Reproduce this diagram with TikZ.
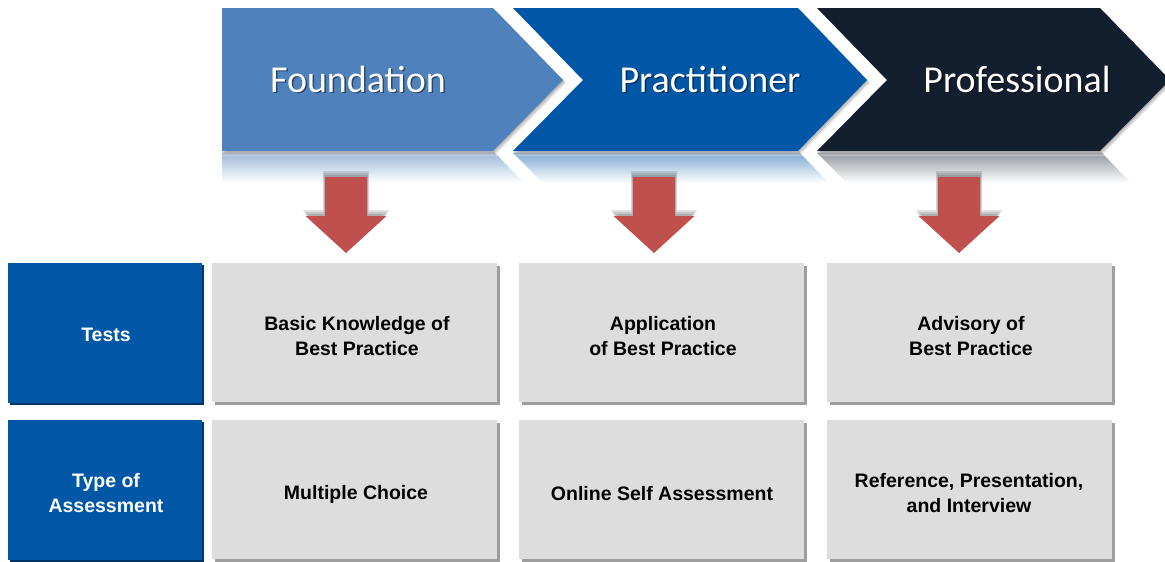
\documentclass[tikz,border=0pt]{standalone}
\usepackage{fontspec}
\setmainfont{Carlito}
\newfontfamily\boxfont{Liberation Sans}
\usetikzlibrary{shadows}
\definecolor{foundc}{HTML}{4F81BD}
\definecolor{practc}{HTML}{0057A7}
\definecolor{profc}{HTML}{131F2F}
\definecolor{boxblue}{HTML}{0057A6}
\definecolor{boxgray}{HTML}{DDDDDD}
\definecolor{redarrow}{HTML}{C0504D}
\begin{document}
\begin{tikzpicture}[x=1pt,y=-1pt,
  chevtext/.style={font=\fontsize{38}{40}\selectfont, text=white, inner sep=0pt, anchor=base},
  chevshade/.style={font=\fontsize{38}{40}\selectfont, text=black, opacity=0.45, inner sep=0pt, anchor=base},
  bluecell/.style={fill=boxblue, minimum width=194pt, minimum height=140pt, inner sep=0pt,
    drop shadow={shadow xshift=2pt, shadow yshift=-2pt, fill=boxblue!60!black, opacity=1}},
  graycell/.style={fill=boxgray, minimum width=285pt, minimum height=139pt, inner sep=0pt,
    drop shadow={shadow xshift=3pt, shadow yshift=-3pt, fill=black!38, opacity=1}},
  celltext/.style={font=\boxfont\bfseries\fontsize{19.5}{25}\selectfont, align=center},
  redarr/.style={fill=redarrow}]
\useasboundingbox (0,0) rectangle (1165,562);
\clip (0,0) rectangle (1165,562);

% chevron shadows
\foreach \d in {1,2,3}{
\fill[black, opacity=0.1] (222+\d,8+\d) -- (493+\d,8+\d) -- (563+\d,80+\d) -- (493+\d,151+\d) -- (222+\d,151+\d) -- cycle;
\fill[black, opacity=0.1] (513+\d,8+\d) -- (798+\d,8+\d) -- (867+\d,80+\d) -- (798+\d,151+\d) -- (513+\d,151+\d) -- (583+\d,80+\d) -- cycle;
\fill[black, opacity=0.1] (817+\d,8+\d) -- (1100+\d,8+\d) -- (1170+\d,80+\d) -- (1100+\d,151+\d) -- (817+\d,151+\d) -- (887+\d,80+\d) -- cycle;
}

% chevrons
\fill[foundc] (222,8) -- (493,8) -- (563,80) -- (493,151) -- (222,151) -- cycle;
\fill[practc] (513,8) -- (798,8) -- (867,80) -- (798,151) -- (513,151) -- (583,80) -- cycle;
\fill[profc] (817,8) -- (1100,8) -- (1170,80) -- (1100,151) -- (817,151) -- (887,80) -- cycle;

% reflections
\shade[top color=foundc!55!white, bottom color=white] (222,153) -- (495,153) -- (524,183) -- (222,183) -- cycle;
\shade[top color=practc!50!white, bottom color=white] (513,153) -- (800,153) -- (829,183) -- (543,183) -- cycle;
\shade[top color=profc!45!white, bottom color=white] (817,153) -- (1102,153) -- (1131,183) -- (847,183) -- cycle;
\shade[top color=black!45, bottom color=black!0, opacity=0.45] (222,152) -- (494,152) -- (498,156) -- (222,156) -- cycle;
\shade[top color=black!45, bottom color=black!0, opacity=0.45] (513,152) -- (799,152) -- (803,156) -- (517,156) -- cycle;
\shade[top color=black!45, bottom color=black!0, opacity=0.45] (817,152) -- (1101,152) -- (1105,156) -- (821,156) -- cycle;

% chevron labels
\node[chevshade] at (359.5,93.5) {Foundation};
\node[chevtext] (found) at (358,92) {Foundation};
\node[chevshade] at (711.5,93.5) {Practitioner};
\node[chevtext] (pract) at (710,92) {Practitioner};
\node[chevshade] at (1018.5,93.5) {Professional};
\node[chevtext] (prof) at (1017,92) {Professional};

% red arrows
\foreach \c in {346,654,959}{
  \foreach \d in {2,4,6}{
    \fill[black, opacity=0.12] (\c-21-\d/3,177-\d) -- (\c+21+\d/3,177-\d) -- (\c+21+\d/3,216-\d) -- (\c+40.5+\d/2,216-\d) -- (\c,253-\d) -- (\c-40.5-\d/2,216-\d) -- (\c-21-\d/3,216-\d) -- cycle;
  }
  \fill[redarr] (\c-21,177) -- (\c+21,177) -- (\c+21,216) -- (\c+40.5,216) -- (\c,253) -- (\c-40.5,216) -- (\c-21,216) -- cycle;
}

% grid
\node[bluecell] (tests) at (105,333) {};
\node[celltext, text=white] (testsl) at (106,335) {Tests};
\node[bluecell] (type) at (105,490) {};
\node[celltext, text=white] (typel) at (106,493) {Type of\\Assessment};

\node[graycell] (c11) at (354.5,332.5) {};
\node[celltext] (t11) at (357,336) {Basic Knowledge of\\Best Practice};
\node[graycell] (c12) at (661.5,332.5) {};
\node[celltext] (t12) at (663,336) {Application\\of Best Practice};
\node[graycell] (c13) at (969.5,332.5) {};
\node[celltext] (t13) at (971,336) {Advisory of\\Best Practice};

\node[graycell] (c21) at (354.5,489.5) {};
\node[celltext] (t21) at (356,494) {Multiple Choice};
\node[graycell] (c22) at (661.5,489.5) {};
\node[celltext] (t22) at (662,494) {Online Self Assessment};
\node[graycell] (c23) at (969.5,489.5) {};
\node[celltext] (t23) at (969,493) {Reference, Presentation,\\and Interview};
\end{tikzpicture}
\end{document}
